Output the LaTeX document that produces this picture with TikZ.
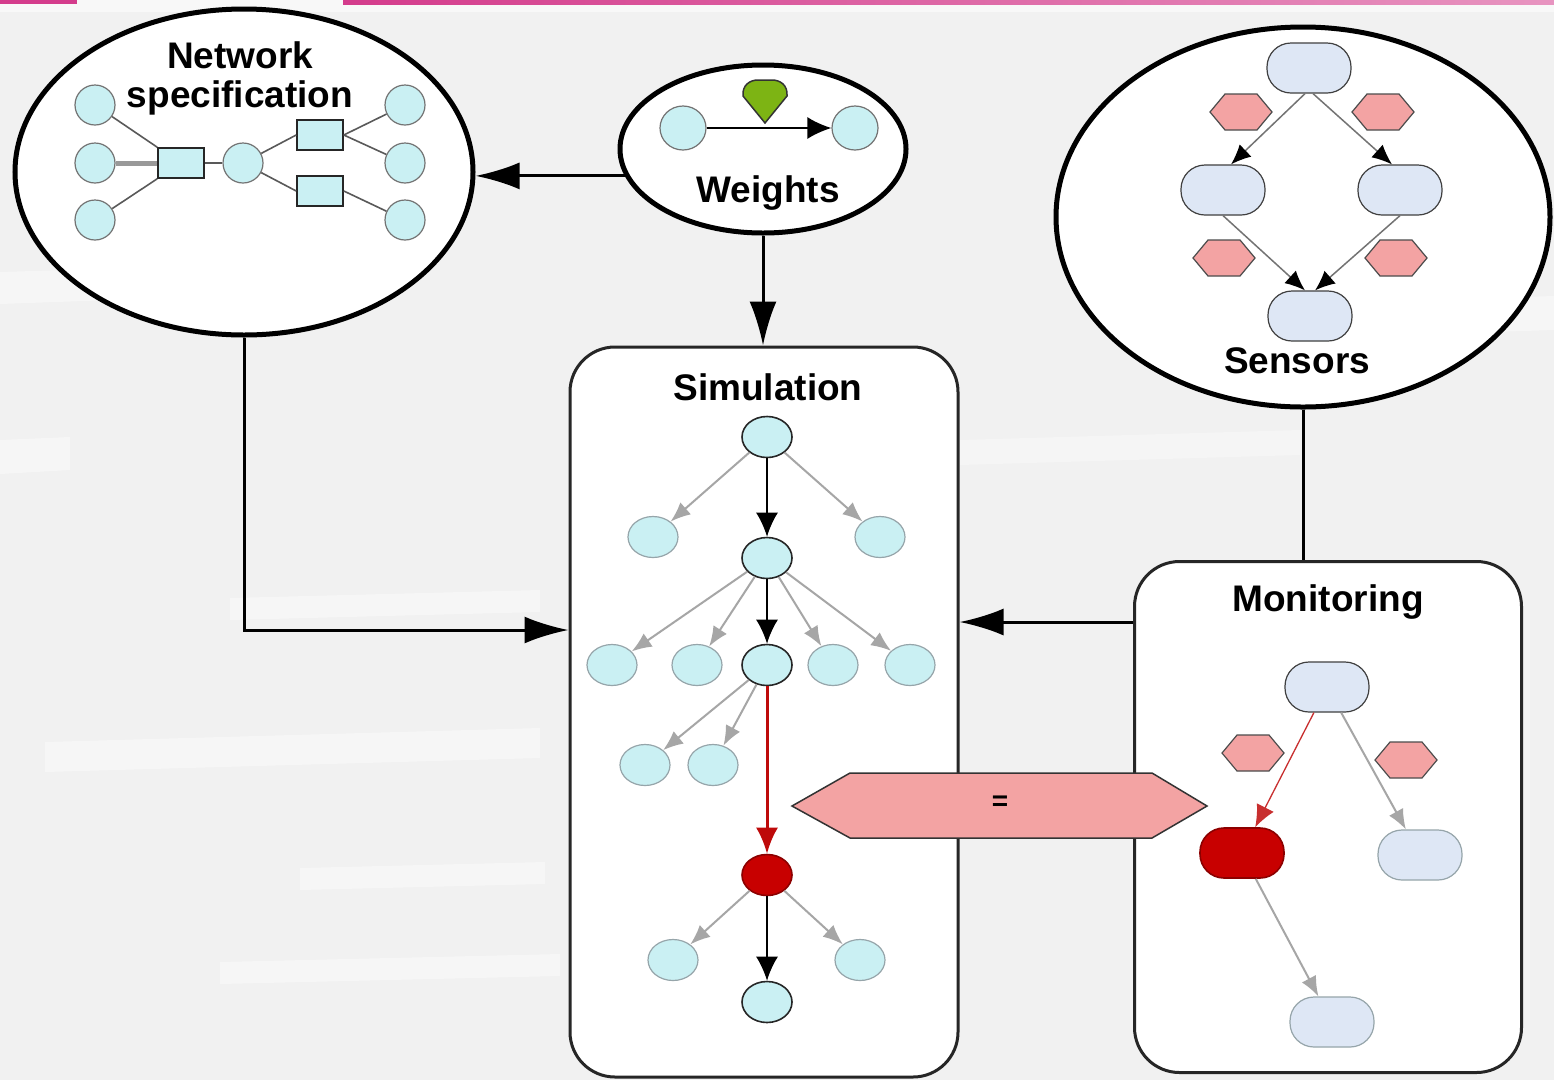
\documentclass[tikz,border=0pt]{standalone}
\usepackage{fontspec}
\setmainfont{Liberation Sans}
\usetikzlibrary{arrows.meta,shapes.geometric,calc}
\definecolor{bgc}{RGB}{241,241,241}
\definecolor{cyanf}{RGB}{202,240,243}
\definecolor{lavf}{RGB}{222,231,245}
\definecolor{pinkf}{RGB}{243,163,163}
\definecolor{redf}{RGB}{200,0,0}
\definecolor{redl}{RGB}{190,10,10}
\definecolor{greenf}{RGB}{125,180,20}
\definecolor{pinkbar}{RGB}{212,60,140}
\definecolor{fadeline}{RGB}{150,165,170}
\tikzset{
  big/.style={ellipse, draw=black, line width=5pt, fill=white, inner sep=0pt},
  box/.style={rectangle, draw=black!85, line width=3pt, fill=white, rounded corners=45pt, inner sep=0pt},
  title/.style={font=\bfseries\fontsize{37}{40}\selectfont, inner sep=0pt},
  conn/.style={draw=black, line width=3pt},
  bigtip/.style={conn, -{Latex[length=44pt,width=27pt]}},
  cnode/.style={ellipse, fill=cyanf, draw=fadeline, line width=1.2pt, minimum width=50pt, minimum height=41pt, inner sep=0pt},
  hinode/.style={cnode, draw=black!85, line width=1.6pt},
  rednode/.style={cnode, fill=redf, draw=redf!70!black, line width=1.6pt},
  ncirc/.style={circle, fill=cyanf, draw=black!55, line width=1.2pt, minimum size=40pt, inner sep=0pt},
  nrect/.style={rectangle, fill=cyanf, draw=black!85, line width=1.6pt, minimum width=46pt, minimum height=30pt, inner sep=0pt},
  nline/.style={draw=black!65, line width=1.6pt},
  rrect/.style={rectangle, rounded corners=24pt, fill=lavf, draw=fadeline, line width=1.2pt, minimum width=84pt, minimum height=50pt, inner sep=0pt},
  hirrect/.style={rrect, draw=black!75},
  redrrect/.style={rrect, fill=redf, draw=redf!70!black, line width=1.6pt},
  blackarr/.style={draw=black, line width=2pt, -{Latex[length=24pt,width=22pt]}},
  grayarr/.style={draw=black!35, line width=2pt, -{Latex[length=20pt,width=16pt]}},
  redarr/.style={draw=redl, line width=3pt, -{Latex[length=26pt,width=22pt]}},
  thinred/.style={draw=redl!85, line width=1.3pt, -{Latex[length=22pt,width=19pt]}},
  sarr/.style={draw=black!55, line width=1.5pt, -{Latex[length=20pt,width=17pt,color=black]}},
  hexa/.pic={\path[draw=black!70, line width=1.2pt, fill=pinkf] (-31,0) -- (-16,-18) -- (16,-18) -- (31,0) -- (16,18) -- (-16,18) -- cycle;}
}
\begin{document}
\begin{tikzpicture}[x=1pt,y=-1pt]
\useasboundingbox (0,0) rectangle (1554,1080);
% background
\fill[bgc] (0,0) rectangle (1554,1080);
\fill[white,opacity=.4] (0,272) -- (335,262) -- (335,292) -- (0,304) -- cycle;
\fill[white,opacity=.4] (0,440) -- (70,437) -- (70,470) -- (0,474) -- cycle;
\fill[white,opacity=.4] (230,598) -- (540,590) -- (540,612) -- (230,620) -- cycle;
\fill[white,opacity=.4] (45,742) -- (540,728) -- (540,758) -- (45,772) -- cycle;
\fill[white,opacity=.4] (300,868) -- (545,862) -- (545,884) -- (300,890) -- cycle;
\fill[white,opacity=.4] (220,962) -- (560,954) -- (560,976) -- (220,984) -- cycle;
\fill[white,opacity=.4] (1430,300) -- (1554,296) -- (1554,330) -- (1430,334) -- cycle;
\fill[white,opacity=.3] (960,440) -- (1300,430) -- (1300,455) -- (960,465) -- cycle;
\fill[white,opacity=.55] (0,0) rectangle (1554,12);
% top bar
\fill[pinkbar] (0,0) rectangle (77,4);
\shade[left color=pinkbar, right color=pinkbar!55] (343,0) rectangle (1554,4);

% main containers
\node[big, minimum width=458pt, minimum height=326pt] (netspec) at (244,172) {};
\node[big, minimum width=286pt, minimum height=168pt] (weights) at (763,149) {};
\node[big, minimum width=494pt, minimum height=380pt] (sensors) at (1303,217) {};
\node[box, minimum width=388pt, minimum height=730pt] (sim) at (764,712) {};
\node[box, minimum width=387pt, minimum height=511pt] (mon) at (1328,817) {};

% connectors between containers
\draw[bigtip] (weights.191.5) -- (weights.191.5 -| netspec.east);
\draw[bigtip] (weights.south) -- (weights.south |- sim.north);
\draw[bigtip] (netspec.south) |- ([yshift=82pt]sim.west);
\draw[bigtip] ([yshift=195pt]mon.west) -- ([yshift=195pt]mon.west -| sim.east);
\draw[conn] (sensors.south) -- (sensors.south |- mon.north);

% titles
\node[title] (tnet1) at (240,55) {Network};
\node[title] (tnet2) at (240,98) {specification};
\node[title] (tw) at (768,193) {Weights};
\node[title] (ts) at (1297,361) {Sensors};
\node[title] (tsim) at (768,387) {Simulation};
\node[title] (tmon) at (1328,602) {Monitoring};

% network specification content
\node[ncirc] (n1) at (95,105) {};
\node[ncirc] (n2) at (95,163) {};
\node[ncirc] (n3) at (95,220) {};
\node[nrect] (r1) at (181,163) {};
\node[ncirc] (n4) at (243,163) {};
\node[nrect] (r2) at (320,135) {};
\node[nrect] (r3) at (320,191) {};
\node[ncirc] (n5) at (405,105) {};
\node[ncirc] (n6) at (405,163) {};
\node[ncirc] (n7) at (405,220) {};
\draw[nline] (n1) -- (r1.north west);
\draw[draw=black!40, line width=5pt] (n2) -- (r1);
\draw[nline] (n3) -- (r1.south west);
\draw[nline] (r1) -- (n4);
\draw[nline] (n4) -- (r2.west);
\draw[nline] (n4) -- (r3.west);
\draw[nline] (r2.east) -- (n5);
\draw[nline] (r2.east) -- (n6);
\draw[nline] (r3.east) -- (n7);

% weights content
\node[ellipse, fill=cyanf, draw=black!55, line width=1.2pt, minimum width=46pt, minimum height=44pt, inner sep=0pt] (w1) at (683,128) {};
\node[ellipse, fill=cyanf, draw=black!55, line width=1.2pt, minimum width=46pt, minimum height=44pt, inner sep=0pt] (w2) at (855,128) {};
\draw[blackarr] (w1) -- (w2);
\path[draw=black!80, line width=1.5pt, fill=greenf] (765,123) -- (743,96) .. controls (742,85) and (750,80) .. (758,80) -- (772,80) .. controls (780,80) and (788,85) .. (787,96) -- cycle;

% sensors content
\node[hirrect] (s1) at (1309,68) {};
\node[hirrect] (s2) at (1223,190) {};
\node[hirrect] (s3) at (1400,190) {};
\node[hirrect] (s4) at (1310,316) {};
\pic at (1241,112) {hexa};
\pic at (1383,112) {hexa};
\pic at (1224,258) {hexa};
\pic at (1396,258) {hexa};
\draw[sarr] ([xshift=-4pt]s1.south) -- ([xshift=8pt]s2.north);
\draw[sarr] ([xshift=4pt]s1.south) -- ([xshift=-8pt]s3.north);
\draw[sarr] (s2.south) -- ([xshift=-5pt]s4.north);
\draw[sarr] (s3.south) -- ([xshift=5pt]s4.north);

% simulation content
\node[hinode] (t0) at (767,437) {};
\node[cnode] (t1) at (653,537) {};
\node[hinode] (t2) at (767,558) {};
\node[cnode] (t3) at (880,537) {};
\node[cnode] (a1) at (612,665) {};
\node[cnode] (a2) at (697,665) {};
\node[hinode] (a3) at (767,665) {};
\node[cnode] (a4) at (833,665) {};
\node[cnode] (a5) at (910,665) {};
\node[cnode] (b1) at (645,765) {};
\node[cnode] (b2) at (713,765) {};
\node[rednode] (rd) at (767,875) {};
\node[cnode] (c1) at (673,960) {};
\node[cnode] (c2) at (860,960) {};
\node[hinode] (c3) at (767,1002) {};
\draw[grayarr] (t0) -- (t1);
\draw[grayarr] (t0) -- (t3);
\draw[grayarr] (t2) -- (a1);
\draw[grayarr] (t2) -- (a2);
\draw[grayarr] (t2) -- (a4);
\draw[grayarr] (t2) -- (a5);
\draw[grayarr] (a3) -- (b1);
\draw[grayarr] (a3) -- (b2);
\draw[grayarr] (rd) -- (c1);
\draw[grayarr] (rd) -- (c2);
\draw[blackarr] (t0) -- (t2);
\draw[blackarr] (t2) -- (a3);
\draw[blackarr] (rd) -- (c3);
\draw[redarr] (a3) -- (rd);

% monitoring content
\node[hirrect] (m0) at (1327,687) {};
\node[redrrect] (m1) at (1242,853) {};
\node[rrect] (m2) at (1420,855) {};
\node[rrect] (m3) at (1332,1022) {};
\pic at (1253,753) {hexa};
\pic at (1406,760) {hexa};
\draw[thinred] (m0) -- (m1);
\draw[grayarr] (m0) -- (m2);
\draw[grayarr] (m1) -- (m3);

% equality link
\path[draw=black!80, line width=1.5pt, fill=pinkf] (792,806) -- (850,773) -- (1152,773) -- (1207,806) -- (1152,838) -- (850,838) -- cycle;
\node[font=\bfseries\fontsize{28}{30}\selectfont, inner sep=0pt] (eq) at (1000,803) {=};
\end{tikzpicture}
\end{document}
